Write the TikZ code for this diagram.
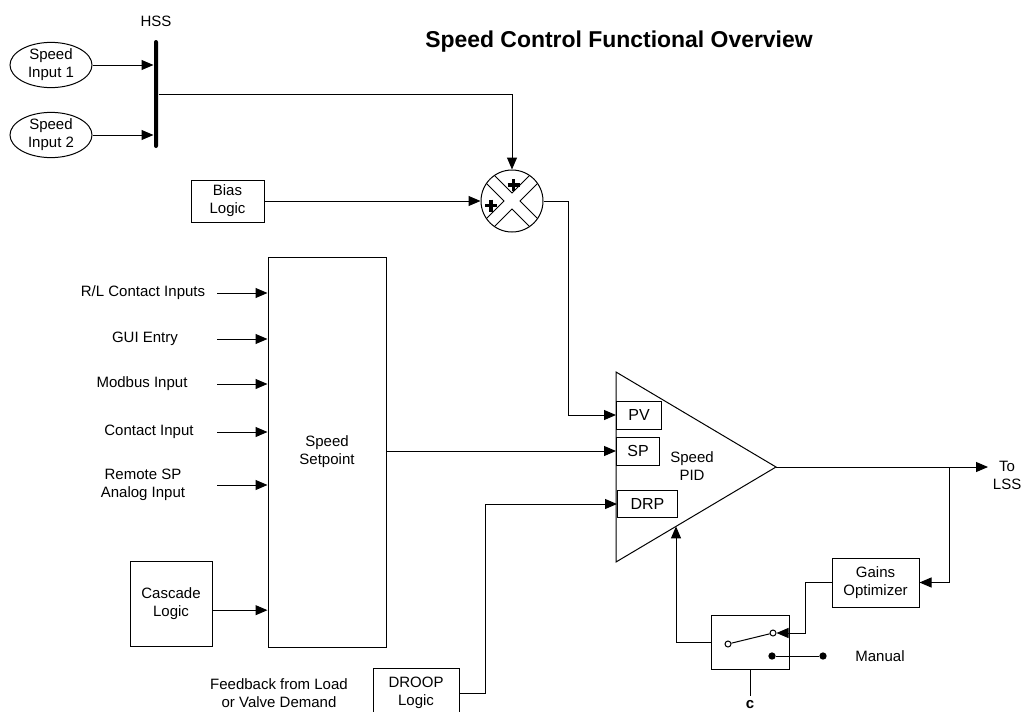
\documentclass[tikz,border=0pt]{standalone}
\usepackage{fontspec}
\setmainfont{Liberation Sans}
\usetikzlibrary{arrows.meta,shapes.geometric,calc}

\begin{document}
\begin{tikzpicture}[x=0.75pt,y=-0.75pt,>={Triangle[length=9pt,width=7.5pt]},line width=0.75pt,
    font=\fontsize{11.25}{13.5}\selectfont,
    blk/.style={draw,fill=white,align=center,inner sep=0pt},
    oval/.style={draw,ellipse,align=center,inner sep=0pt,minimum width=61.5pt,minimum height=33pt},
    contact/.style={circle,draw,fill=white,inner sep=0pt,minimum size=4.5pt},
    bullet/.style={circle,fill,inner sep=0pt,minimum size=5.5pt}]
    \useasboundingbox (0,0) rectangle (1024,711);
    \node[font=\fontsize{17.2}{20}\selectfont\bfseries,anchor=base] (title) at (619,47) {Speed Control Functional Overview};
    % speed inputs into the high signal select
    \node[oval] (in1) at (51,65) {Speed\\Input 1};
    \node[oval] (in2) at (51,135) {Speed\\Input 2};
    \node[fill,rounded corners=1.5pt,minimum width=3pt,minimum height=81pt,inner sep=0pt,
        label={[label distance=6pt]above:HSS}] (hss) at (156,94) {};
    \draw[->] (in1) -- (in1 -| hss.west);
    \draw[->] (in2) -- (in2 -| hss.west);
    % summing junction
    \node[blk,minimum width=54.75pt,minimum height=31.5pt] (bias) at (227.5,201) {Bias\\Logic};
    \node[circle,draw,minimum size=46.5pt,inner sep=0pt] (sum) at (512,201) {};
    \foreach \r in {0,90,180,270}
        \draw[rotate around={\r:(sum.center)}] (sum.center) ++(-17.5,-25.5) -- ++(17.5,17.5) -- ++(17.5,-17.5);
    \foreach \dx/\dy in {1.5/-16,-21/4.5}
        \draw[line width=2.4pt] ($(sum.center)+(\dx,\dy)$) ++(-6,0) -- ++(12,0) ++(-6,-6) -- ++(0,12);
    \draw[->] (hss.east) -| (sum.north);
    \draw[->] (bias) -- (sum.west);
    % setpoint and its sources
    \node[blk,minimum width=88.5pt,minimum height=292.5pt] (setpt) at (327,452) {Speed\\Setpoint};
    \foreach \x/\y/\txt [count=\i] in {143/293/{R/L Contact Inputs},145/339/{GUI Entry},142/384/{Modbus Input},149/432/{Contact Input},143/485/{Remote SP\\Analog Input}}{
        \node[align=center] (src\i) at (\x,\y) {\txt};
        \coordinate (tail\i) at (217,\y);
        \draw[->] (tail\i) -- (tail\i -| setpt.west);
    }
    \node[blk,minimum width=61.5pt,minimum height=63.75pt] (casc) at (171,603.5) {Cascade\\Logic};
    \coordinate (cascout) at ([yshift=-5pt]casc.east);
    \draw[->] (cascout) -- (cascout -| setpt.west);
    % speed PID
    \coordinate (pidtop) at (616,372);
    \coordinate (pidout) at (776,467);
    \coordinate (pidbot) at (616,562);
    \draw (pidtop) -- (pidout) -- (pidbot) -- cycle;
    \node[align=center] (pidlbl) at (692,466) {Speed\\PID};
    \node[blk,anchor=west,font=\fontsize{12}{14}\selectfont,minimum width=33.75pt,minimum height=21pt] (pv) at (616,415) {PV};
    \node[blk,anchor=west,font=\fontsize{12}{14}\selectfont,minimum width=32.25pt,minimum height=21pt] (sp) at (616,451) {SP};
    \node[blk,anchor=west,font=\fontsize{12}{14}\selectfont,minimum width=45pt,minimum height=20.25pt] (drp) at (617,504) {DRP};
    \draw[->] (sum.east) -- ++(25,0) |- (pv.west);
    \draw[->] (setpt.east |- sp.west) -- (sp.west);
    % droop
    \node[blk,minimum width=64.5pt,minimum height=37.5pt] (droop) at (416,693) {DROOP\\Logic};
    \node[align=center] (fbtxt) at (279,693) {Feedback from Load\\or Valve Demand};
    \draw[->] (droop.east) -- ++(26,0) |- (drp.west);
    % output and gains optimizer
    \node[align=center,anchor=north west] (lss) at (988,456) {To\\LSS};
    \draw[->] (pidout) -- (pidout -| lss.west);
    \coordinate (br) at (949,467);
    \node[blk,minimum width=65.25pt,minimum height=36.75pt] (gains) at (875.5,582.5) {Gains\\Optimizer};
    \draw[->] (br) |- (gains.east);
    % manual / auto switch
    \node[blk,minimum width=58.5pt,minimum height=40.5pt] (sw) at (750,642) {};
    \node[contact] (sw1) at (728,644) {};
    \node[contact] (sw2) at (773,633) {};
    \node[bullet] (man1) at (772,656) {};
    \node[bullet] (man2) at (823,656) {};
    \draw (sw1) -- (sw2);
    \draw (man1) -- (man2);
    \node (manual) at (880,656) {Manual};
    \draw[->] (gains.west) -- ++(-26,0) |- (sw2.east);
    \coordinate (fbk) at ($(pidbot)!0.375!(pidout)$);
    \draw[->] (sw.west) -| (fbk);
    \node[font=\fontsize{11.25}{13.5}\selectfont\bfseries] (ctl) at (750,705) {c};
    \draw (sw.south) -- (ctl.north);
\end{tikzpicture}
\end{document}
